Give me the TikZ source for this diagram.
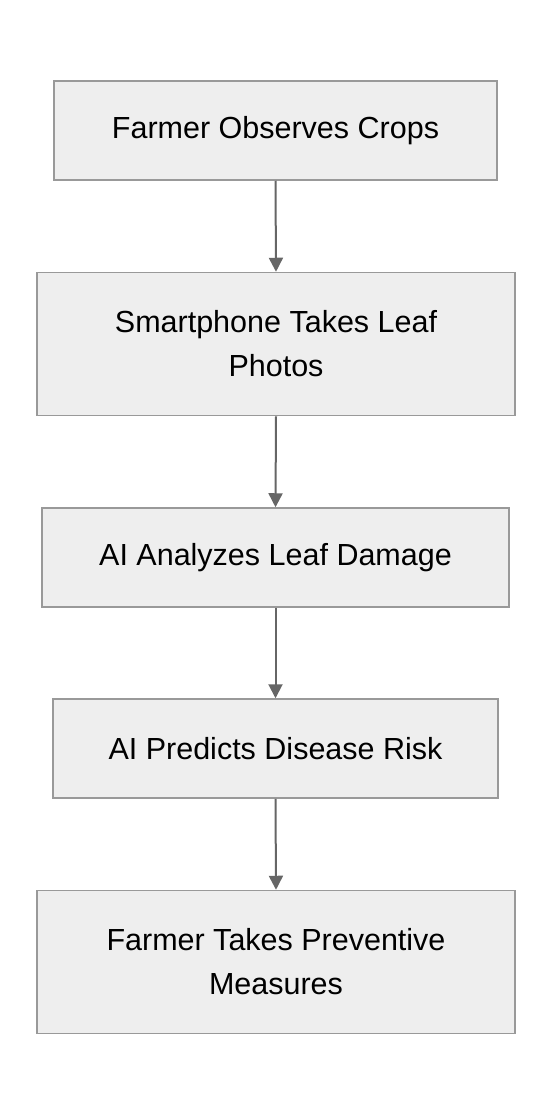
\documentclass[tikz,border=0pt]{standalone}
\usepackage{fontspec}
\setmainfont{Liberation Sans}
\usetikzlibrary{arrows.meta}
\definecolor{boxfill}{HTML}{EEEEEE}
\definecolor{boxline}{HTML}{999999}
\definecolor{arrowcol}{HTML}{666666}
\begin{document}
\begin{tikzpicture}[x=1pt,y=-1pt,
  stepbox/.style={draw=boxline, fill=boxfill, line width=1.5pt, inner sep=0pt,
    align=center, font=\fontsize{30.5}{44}\selectfont, text=black},
  flow/.style={draw=arrowcol, line width=2pt, -{Triangle[width=14pt,length=14pt]}}]
\useasboundingbox (0,0) rectangle (552,1116);
\node[stepbox, minimum width=443pt, minimum height=99pt] (n1) at (275.5,130.5) {Farmer Observes Crops};
\node[stepbox, minimum width=478pt, minimum height=143pt] (n2) at (276,344) {Smartphone Takes Leaf\\Photos};
\node[stepbox, minimum width=467pt, minimum height=99pt] (n3) at (275.5,557.5) {AI Analyzes Leaf Damage};
\node[stepbox, minimum width=445pt, minimum height=99pt] (n4) at (275.5,748.5) {AI Predicts Disease Risk};
\node[stepbox, minimum width=478pt, minimum height=143pt] (n5) at (276,962) {Farmer Takes Preventive\\Measures};
\draw[flow] (n1.south) -- (n2.north);
\draw[flow] (n2.south) -- (n3.north);
\draw[flow] (n3.south) -- (n4.north);
\draw[flow] (n4.south) -- (n5.north);
\end{tikzpicture}
\end{document}
